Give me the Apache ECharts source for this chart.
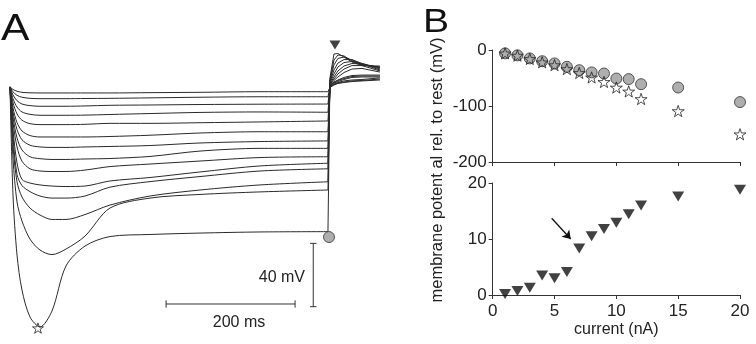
<!DOCTYPE html>
<html>
<head>
<meta charset="utf-8">
<title>Membrane potential responses to current steps</title>
<script src="https://cdn.jsdelivr.net/npm/echarts@6/dist/echarts.min.js"></script>
<style>
  html, body { margin: 0; padding: 0; background: #fff; }
  #chart { width: 756px; height: 344px; }
</style>
</head>
<body>
<div id="chart"></div>
<script>
// Panel A: sample times (ms from step onset), shared by every trace
const traceTimes = [0, 4.7, 10.9, 18.6, 31.0, 46.5, 65.1, 86.8, 116.3, 155.0, 217.1, 294.6, 387.6, 493.0,
                    496.1, 502.3, 508.5, 517.8, 530.2, 545.7, 573.6];
// index of the last sample before the step ends
const stepEnd = 13;

// Panel A: membrane potential (mV rel. to rest), one row per current step
const traces = [
  [-0.6, -2.2, -3.3, -4.0, -4.3, -4.4, -4.4, -4.4, -4.4, -4.4, -4.2, -4.0, -3.6, -3.6, -0.9, 0.6, 1.6, 2.2, 2.8, 3.2, 3.8],
  [-0.6, -3.7, -5.9, -7.1, -7.8, -8.0, -8.0, -8.0, -7.9, -7.8, -7.5, -7.1, -6.8, -6.8, -0.6, 0.9, 1.9, 2.5, 3.2, 3.5, 4.4],
  [-0.6, -5.7, -9.3, -11.4, -12.4, -12.8, -12.8, -12.8, -12.6, -12.2, -12.0, -11.7, -11.5, -11.4, -0.3, 1.3, 2.2, 3.2, 3.8, 4.1, 5.1],
  [-0.6, -8.1, -13.3, -16.4, -17.9, -18.5, -18.5, -18.5, -18.4, -18.0, -17.4, -16.7, -16.4, -16.6, 0, 2.2, 3.5, 4.7, 6.0, 6.3, 6.3],
  [-0.6, -10.6, -17.6, -21.6, -23.8, -24.4, -24.4, -24.4, -24.2, -23.6, -23.6, -23.2, -22.7, -22.1, 0, 1.9, 2.8, 4.1, 5.4, 5.7, 5.7],
  [-0.6, -13.9, -23.1, -28.4, -31.3, -32.2, -32.2, -32.2, -32.2, -31.9, -31.1, -29.7, -28.9, -28.9, 0.3, 2.5, 3.8, 5.4, 6.6, 6.9, 6.9],
  [-0.6, -16.6, -27.5, -34.0, -37.4, -38.5, -38.8, -38.8, -38.5, -38.2, -37.6, -36.0, -35.1, -34.7, 0.6, 3.5, 5.7, 8.5, 10.7, 11.1, 8.8],
  [-0.6, -19.6, -32.8, -40.4, -44.7, -45.9, -46.4, -46.4, -46.1, -45.8, -44.5, -41.1, -39.4, -39.4, 0.9, 4.4, 7.6, 10.7, 12.9, 12.9, 9.5],
  [-0.6, -23.0, -38.5, -47.5, -52.3, -53.7, -54.0, -54.0, -53.1, -50.9, -49.3, -47.4, -45.2, -44.7, 1.3, 5.7, 9.5, 12.6, 14.2, 13.9, 10.1],
  [-0.6, -27.8, -48.6, -59.0, -61.3, -62.5, -63.2, -63.5, -63.2, -60.0, -57.8, -54.3, -50.5, -48.8, 1.9, 7.6, 12.0, 14.8, 15.5, 14.2, 10.7],
  [-0.6, -32.2, -55.9, -62.9, -66.7, -69.5, -70.8, -70.8, -69.5, -63.9, -60.4, -57.2, -53.7, -52.3, 2.5, 10.1, 14.5, 16.7, 16.7, 14.2, 11.4],
  [-0.6, -37.9, -60.6, -70.1, -77.1, -81.5, -84.3, -84.3, -81.2, -75.2, -69.5, -65.7, -62.5, -60.5, 3.2, 13.3, 17.4, 18.3, 16.4, 13.6, 11.7],
  [-0.6, -46.1, -73.3, -85.3, -96.7, -103.6, -106.5, -103.0, -94.8, -77.1, -70.8, -68.5, -66.9, -65.7, 3.8, 16.4, 19.6, 19.0, 15.8, 13.3, 12.0],
  [-0.6, -69.5, -106.8, -128.9, -145.9, -152.2, -142.1, -113.7, -101.1, -95.1, -93.8, -92.9, -92.2, -92.0, 5.1, 20.2, 20.5, 18.3, 15.2, 12.9, 12.6]
];

// Panel A: markers on the 20 nA trace [ms, mV]
const peakMark = [43.4, -152.9];
const steadyMark = [494.6, -95.4];
const reboundMark = [503.9, 25.9];

// Panel A: scale bars (200 ms, 40 mV)
const timeBarMs = [242, 442];
const timeBarLevel = -137.7;
const voltBarMv = [-99.4, -139.4];
const voltBarTime = 470.2;

// Panel B: current steps and measured potentials
const currents = [1, 2, 3, 4, 5, 6, 7, 8, 9, 10, 11, 12, 15, 20];
const steadyState = [-6, -9.5, -15, -20, -24, -30, -36, -40, -42, -51, -52, -61, -67, -93];
const peakSag = [-6, -10, -16, -22, -27, -34, -41, -49, -57, -67, -74, -87.5, -109, -150.5];
const rebound = [0.2, 0.7, 1.3, 3.5, 3.0, 4.1, 8.3, 10.5, 11.8, 12.9, 14.4, 16.0, 17.6, 18.8];

// Panel B: arrow pointing at the 7 nA rebound [nA, mV]
const arrowFrom = [4.77, 13.7];
const arrowTo = [6.31, 10.0];

const FONT = '"Liberation Sans", Arial, sans-serif';
const INK = '#222';
const STAR = 'path://M50,0 L61.8,35.1 98.5,35.1 68.8,56.7 79.4,91.3 50,70.2 20.6,91.3 31.2,56.7 1.5,35.1 38.2,35.1 Z';

const chart = echarts.init(document.getElementById('chart'));

// Simple straight segment on panel A axes
function segment(x1, y1, x2, y2) {
    return {
        type: 'line', xAxisIndex: 0, yAxisIndex: 0,
        data: [[x1, y1], [x2, y2]],
        symbol: 'none', silent: true, clip: false,
        lineStyle: { color: '#333', width: 1 }
    };
}

// Each trace: smooth curve during the step, straight jump + rebound after it
function traceSeries() {
    const out = [];
    traces.forEach(volts => {
        const pts = volts.map((v, j) => [traceTimes[j], v]);
        out.push({
            type: 'line', xAxisIndex: 0, yAxisIndex: 0,
            data: pts.slice(0, stepEnd + 1),
            smooth: 0.3, symbol: 'none', silent: true, clip: false,
            lineStyle: { color: '#2a2a2a', width: 1 }
        });
        out.push({
            type: 'line', xAxisIndex: 0, yAxisIndex: 0,
            data: pts.slice(stepEnd),
            smooth: false, symbol: 'none', silent: true, clip: false,
            lineStyle: { color: '#2a2a2a', width: 1 }
        });
    });
    return out;
}

function scaleBars() {
    return [
        segment(timeBarMs[0], timeBarLevel, timeBarMs[1], timeBarLevel),
        segment(timeBarMs[0], timeBarLevel + 2.3, timeBarMs[0], timeBarLevel - 2.3),
        segment(timeBarMs[1], timeBarLevel + 2.3, timeBarMs[1], timeBarLevel - 2.3),
        segment(voltBarTime, voltBarMv[0], voltBarTime, voltBarMv[1]),
        segment(voltBarTime - 5, voltBarMv[0], voltBarTime + 5, voltBarMv[0]),
        segment(voltBarTime - 5, voltBarMv[1], voltBarTime + 5, voltBarMv[1])
    ];
}

function hiddenAxis(min, max) {
    return { type: 'value', gridIndex: 0, min: min, max: max, show: false };
}

function plotAxis(grid, min, max, interval, showLabels) {
    return {
        type: 'value', gridIndex: grid, min: min, max: max, interval: interval,
        axisLine: { show: true, onZero: false, lineStyle: { color: '#333', width: 1 } },
        axisTick: { show: true, inside: false, length: 4, lineStyle: { color: '#333' } },
        axisLabel: { show: showLabels, color: INK, fontFamily: FONT, fontSize: 17, margin: 6 },
        splitLine: { show: false }
    };
}

const xBottom = plotAxis(2, 0, 20, 5, true);
xBottom.axisLabel.margin = 8;
xBottom.name = 'current (nA)';
xBottom.nameLocation = 'middle';
xBottom.nameGap = 27;
xBottom.nameTextStyle = { color: INK, fontFamily: FONT, fontSize: 16 };

const option = {
    animation: false,
    backgroundColor: '#fff',
    grid: [
        { left: 10, top: 38.5, width: 370.2, height: 300.8 },
        { left: 492.7, top: 50, width: 247.3, height: 112 },
        { left: 492.7, top: 183, width: 247.3, height: 112 }
    ],
    xAxis: [
        hiddenAxis(0, 574),
        plotAxis(1, 0, 20, 5, false),
        xBottom
    ],
    yAxis: [
        hiddenAxis(-160, 30),
        plotAxis(1, -200, 0, 100, true),
        plotAxis(2, 0, 20, 10, true)
    ],
    series: [
        ...traceSeries(),
        ...scaleBars(),
        {
            type: 'scatter', xAxisIndex: 0, yAxisIndex: 0, clip: false, silent: true,
            data: [steadyMark], symbol: 'circle', symbolSize: 11,
            itemStyle: { color: '#9a9a9a', borderColor: '#333', borderWidth: 1 }, z: 4
        },
        {
            type: 'scatter', xAxisIndex: 0, yAxisIndex: 0, clip: false, silent: true,
            data: [peakMark], symbol: STAR, symbolSize: 11, symbolKeepAspect: true,
            itemStyle: { color: 'rgba(0,0,0,0)', borderColor: '#222', borderWidth: 1 }, z: 4
        },
        {
            type: 'scatter', xAxisIndex: 0, yAxisIndex: 0, clip: false, silent: true,
            data: [reboundMark], symbol: 'triangle', symbolRotate: 180, symbolSize: [11, 9],
            itemStyle: { color: '#111' }, z: 4
        },
        {
            name: 'steady state', type: 'scatter', xAxisIndex: 1, yAxisIndex: 1, clip: false,
            data: currents.map((c, i) => [c, steadyState[i]]),
            symbol: 'circle', symbolSize: 11,
            itemStyle: { color: '#9a9a9a', borderColor: '#333', borderWidth: 1 }, z: 3
        },
        {
            name: 'peak', type: 'scatter', xAxisIndex: 1, yAxisIndex: 1, clip: false,
            data: currents.map((c, i) => [c, peakSag[i]]),
            symbol: STAR, symbolSize: 12, symbolKeepAspect: true,
            itemStyle: { color: 'rgba(0,0,0,0)', borderColor: '#222', borderWidth: 1 }, z: 4
        },
        {
            name: 'rebound', type: 'scatter', xAxisIndex: 2, yAxisIndex: 2, clip: false,
            data: currents.map((c, i) => [c, rebound[i]]),
            symbol: 'triangle', symbolRotate: 180, symbolSize: [12, 10],
            itemStyle: { color: '#111' },
            markLine: {
                silent: true, animation: false,
                symbol: ['none', 'arrow'], symbolSize: 8,
                label: { show: false },
                lineStyle: { color: '#111', width: 1.3, type: 'solid' },
                data: [[{ coord: arrowFrom }, { coord: arrowTo }]]
            }
        }
    ],
    graphic: [
        { type: 'text', left: 1, top: 11, scaleX: 1.15, style: { text: 'A', fontFamily: FONT, fontSize: 37, fill: '#111' } },
        { type: 'text', left: 423, top: 6, scaleX: 1.15, style: { text: 'B', fontFamily: FONT, fontSize: 34, fill: '#111' } },
        {
            type: 'text', x: 437, y: 170, rotation: Math.PI / 2,
            style: {
                text: 'membrane potent al rel. to rest (mV)', fontFamily: FONT, fontSize: 16.5,
                fill: INK, align: 'center', verticalAlign: 'middle'
            }
        },
        { type: 'text', x: 305, y: 277.5, style: { text: '40 mV', fontFamily: FONT, fontSize: 16, fill: INK, align: 'right', verticalAlign: 'middle' } },
        { type: 'text', x: 239, y: 323, style: { text: '200 ms', fontFamily: FONT, fontSize: 16, fill: INK, align: 'center', verticalAlign: 'middle' } }
    ]
};

chart.setOption(option);
</script>
</body>
</html>
